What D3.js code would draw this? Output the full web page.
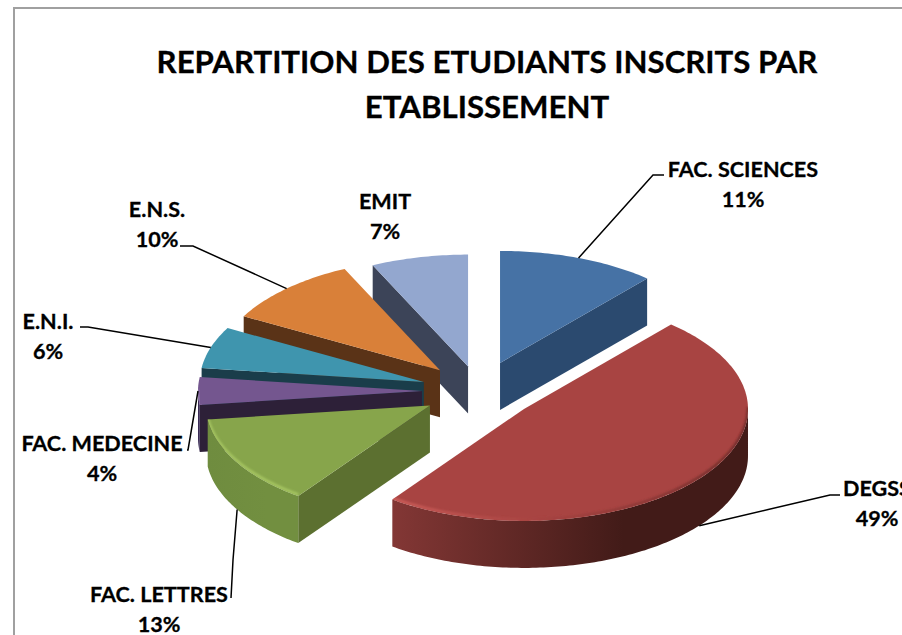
<!DOCTYPE html>
<html>
<head>
<meta charset="utf-8">
<script src="https://cdn.jsdelivr.net/npm/d3@7"></script>
<style>
  body { margin: 0; background: #fff; overflow: hidden; }
  text { font-family: Lato, "Open Sans", sans-serif; font-weight: 700; fill: #000; stroke: #000; stroke-width: 0.3px; }
</style>
</head>
<body>
<div id="chart"></div>
<script>
// Data
const categories = ['FAC. SCIENCES', 'DEGSS', 'FAC. LETTRES', 'FAC. MEDECINE', 'E.N.I.', 'E.N.S.', 'EMIT']
const shares = [11.4, 48.6, 13, 4, 6, 10, 7]
const titleLines = ['REPARTITION DES ETUDIANTS INSCRITS PAR', 'ETABLISSEMENT']

// Styles, same order as categories
const topColors = ['#4672a5', '#a84442', '#87a54b', '#74568f', '#3f95ae', '#d98039', '#93a7cf']
const edgeColors = ['#2b4a6f', '#421b18', '#5c7030', '#2d2038', '#1a3d4a', '#5a3317', '#3c4458']
const wallLeft = ['#2b4a6f', '#833735', '#6f8c3f', '#3a2b55', '#1a3d4a', '#5a3317', '#3c4458']
const wallRight = ['#2b4a6f', '#421b18', '#728f40', '#3a2b55', '#1a3d4a', '#5a3317', '#3c4458']
const bevelLeft = ['#4672a5', '#d0605c', '#a8c864', '#9478b0', '#5fb5cc', '#d98039', '#93a7cf']
const bevelRight = ['#4672a5', '#6a2a28', '#a8c864', '#9478b0', '#5fb5cc', '#d98039', '#93a7cf']

// Layout
const width = 902,
  height = 635,
  cx = 479,
  cy = 391,
  rx = 224,
  ry = 112,
  depth = 47,
  fontSize = 21.6
const explode = [60, 57.5, 57, 57, 58, 57, 50]

// label centre x, first baseline y, elbow of the leader, end of the leader
const labelX = [743, 877, 159, 102, 48, 157, 385]
const labelY = [177, 496, 602, 451, 329, 217, 209]
const elbows = [[653, 175, 664, 175], [830, 495, 840, 495], [233, 560, 231, 598], [188, 450, 187, 450],
  [88, 327, 80, 327], [193, 246, 180, 246], null]

let svg = d3.select('#chart')
  .append('svg')
  .attr('width', width)
  .attr('height', height)
  .style('display', 'block')

let defs = svg.append('defs')
defs.append('filter').attr('id', 'soft')
  .attr('x', '-5%').attr('y', '-5%').attr('width', '110%').attr('height', '110%')
  .append('feGaussianBlur').attr('stdDeviation', 1)

// Chart frame, runs off the page on the right and bottom
svg.append('rect')
  .attr('x', 14).attr('y', 8)
  .attr('width', 1000).attr('height', 1000)
  .attr('fill', '#fff')
  .attr('stroke', '#a0a0a0')
  .attr('stroke-width', 2)

svg.selectAll('.title')
  .data(titleLines)
  .enter()
  .append('text')
  .attr('class', 'title')
  .attr('x', 487)
  .attr('y', (d, i) => 73 + i * 45)
  .attr('text-anchor', 'middle')
  .style('font-size', '31.2px')
  .text(d => d)

const pie = d3.pie().sort(null).value(d => d)
const arcs = pie(shares)

// point on the tilted rim, angle clockwise from 12 o'clock
let rimX = a => rx * Math.sin(a)
let rimY = a => -ry * Math.cos(a)
let line = d3.line()

let rimPoints = (a0, a1, dy) => {
  let n = Math.max(2, Math.ceil((a1 - a0) * 60))
  return d3.range(n + 1).map(i => {
    let a = a0 + (a1 - a0) * i / n
    return [rimX(a), rimY(a) + dy]
  })
}

let slices = arcs.map((d, i) => {
  let mid = (d.startAngle + d.endAngle) / 2
  return {
    i: i,
    start: d.startAngle,
    end: d.endAngle,
    mid: mid,
    x: cx + explode[i] * Math.sin(mid),
    y: cy - explode[i] * 0.5 * Math.cos(mid)
  }
})

// back slices first
let order = slices.slice().sort((a, b) => Math.cos(b.mid) - Math.cos(a.mid))

order.forEach(s => {
  let g = svg.append('g').attr('transform', `translate(${s.x},${s.y})`)
  let i = s.i

  let grad = defs.append('linearGradient').attr('id', 'wall' + i)
  grad.append('stop').attr('offset', '0%').attr('stop-color', wallLeft[i])
  grad.append('stop').attr('offset', '65%').attr('stop-color', wallRight[i])
  let bev = defs.append('linearGradient').attr('id', 'bevel' + i)
  bev.append('stop').attr('offset', '0%').attr('stop-color', bevelLeft[i])
  bev.append('stop').attr('offset', '40%').attr('stop-color', i === 1 ? '#a84442' : bevelRight[i])
  bev.append('stop').attr('offset', '100%').attr('stop-color', bevelRight[i])

  // cut faces
  let edge = a => [[0, 0], [rimX(a), rimY(a)], [rimX(a), rimY(a) + depth], [0, depth]]
  if (Math.sin(s.start) < 0) {
    g.append('path').attr('d', line(edge(s.start)) + 'Z').attr('fill', edgeColors[i])
  }
  if (Math.sin(s.end) > 0) {
    g.append('path').attr('d', line(edge(s.end)) + 'Z').attr('fill', edgeColors[i])
  }

  // outer wall, only the part that faces us
  let a0 = Math.max(s.start, Math.PI / 2),
    a1 = Math.min(s.end, Math.PI * 1.5)
  if (a1 > a0) {
    let upper = rimPoints(a0, a1, 0)
    let lower = rimPoints(a0, a1, depth).reverse()
    g.append('path').attr('d', line(upper.concat(lower)) + 'Z').attr('fill', `url(#wall${i})`)
  }

  // top
  let topPath = line([[0, 0]].concat(rimPoints(s.start, s.end, 0))) + 'Z'
  g.append('path')
    .attr('d', topPath)
    .attr('fill', topColors[i])

  // soft bevel along the front rim, kept inside the top
  if (a1 > a0) {
    defs.append('clipPath').attr('id', 'clip' + i)
      .append('path').attr('d', topPath)
    g.append('g')
      .attr('clip-path', `url(#clip${i})`)
      .append('path')
      .attr('d', line(rimPoints(a0, a1, -1.5)))
      .attr('fill', 'none')
      .attr('stroke', `url(#bevel${i})`)
      .attr('stroke-width', 2.5)
      .attr('filter', 'url(#soft)')
  }
})

// Leader lines start at the middle of each slice's rim
slices.forEach(s => {
  let e = elbows[s.i]
  if (!e) return
  let front = Math.cos(s.mid) < -0.1
  let start = [s.x + rimX(s.mid), s.y + rimY(s.mid) + (front ? depth : 0)]
  svg.append('path')
    .attr('d', line([start, [e[0], e[1]], [e[2], e[3]]]))
    .attr('fill', 'none')
    .attr('stroke', '#000')
    .attr('stroke-width', 1.5)
})

// Labels
categories.forEach((c, i) => {
  let t = svg.append('text')
    .attr('text-anchor', 'middle')
    .style('font-size', fontSize + 'px')
  t.append('tspan').attr('x', labelX[i]).attr('y', labelY[i]).text(c)
  t.append('tspan').attr('x', labelX[i]).attr('y', labelY[i] + 30).text(Math.round(shares[i]) + '%')
})
</script>
</body>
</html>
